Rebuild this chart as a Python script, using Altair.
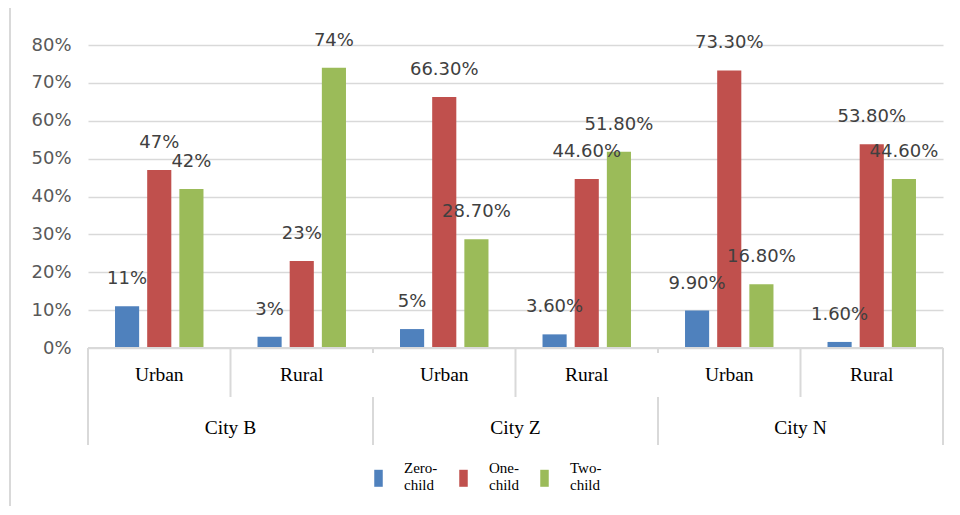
import altair as alt
import pandas as pd

cities = ["City B", "City Z", "City N"]
areas = ["Urban", "Rural"]
series = ["Zero-child", "One-child", "Two-child"]
colors = ["#4f81bd", "#c0504d", "#9bbb59"]

zero_vals = [0.11, 0.03, 0.05, 0.036, 0.099, 0.016]
one_vals = [0.47, 0.23, 0.663, 0.446, 0.733, 0.538]
two_vals = [0.42, 0.74, 0.287, 0.518, 0.168, 0.446]

zero_lbl = ["11%", "3%", "5%", "3.60%", "9.90%", "1.60%"]
one_lbl = ["47%", "23%", "66.30%", "44.60%", "73.30%", "53.80%"]
two_lbl = ["42%", "74%", "28.70%", "51.80%", "16.80%", "44.60%"]

y_ticks = [0, 0.1, 0.2, 0.3, 0.4, 0.5, 0.6, 0.7, 0.8]

groups = [(c, a) for c in cities for a in areas]
grp_keys = [f"{c}|{a}" for c, a in groups]

rows = []
for s, vals, lbls in [(series[0], zero_vals, zero_lbl),
                      (series[1], one_vals, one_lbl),
                      (series[2], two_vals, two_lbl)]:
    for (c, a), k, v, l in zip(groups, grp_keys, vals, lbls):
        rows.append({"grp": k, "city": c, "area": a, "series": s, "value": v, "label": l})
df = pd.DataFrame(rows)

gdf = pd.DataFrame([{"grp": k, "city": c, "area": a} for (c, a), k in zip(groups, grp_keys)])

W, H = 855, 303

xenc = alt.X("grp:N", scale=alt.Scale(domain=grp_keys, paddingInner=0, paddingOuter=0), axis=None)
xoff = alt.XOffset("series:N", scale=alt.Scale(domain=series, paddingInner=0.25, paddingOuter=0.84))
yscale = alt.Scale(domain=[0, 0.8], nice=False)
yaxis = alt.Axis(values=y_ticks, format=".0%", domain=False, ticks=False,
                 labelOverlap=False, labelPadding=17, labelFont="DejaVu Sans",
                 labelFontSize=18, labelColor="#595959", gridColor="#d9d9d9", gridWidth=1.5)
yenc = alt.Y("value:Q", scale=yscale, title=None, axis=yaxis)

bars = alt.Chart(df).mark_bar().encode(
    x=xenc,
    xOffset=xoff,
    y=yenc,
    color=alt.Color("series:N", scale=alt.Scale(domain=series, range=colors),
                    legend=alt.Legend(title=None, orient="none", direction="horizontal",
                                      legendX=282, legendY=414, padding=0,
                                      symbolType="M-0.5,0.24H0.5V2.24H-0.5Z", symbolSize=289,
                                      symbolStrokeWidth=0, labelOffset=17,
                                      columnPadding=17,
                                      labelFont="Liberation Serif", labelFontSize=15,
                                      labelColor="#000000",
                                      labelExpr="[split(datum.label,'-')[0] + '-', split(datum.label,'-')[1]]")),
)

texts = alt.Chart(df).mark_text(font="DejaVu Sans", fontSize=18, color="#404040",
                                baseline="alphabetic", dy=-22).encode(
    x=xenc, xOffset=xoff, y=yenc, text="label:N")

baseline = alt.Chart(gdf).mark_rule(color="#d9d9d9", strokeWidth=2).encode(
    x=alt.value(0), x2=alt.value(W), y=alt.value(H))

inner_sep = alt.Chart(gdf).transform_filter(alt.datum.area == "Rural").mark_rule(
    color="#d9d9d9", strokeWidth=2).encode(
    x=alt.X("grp:N", bandPosition=0), y=alt.value(H), y2=alt.value(352))

city_sep = alt.Chart(gdf).transform_filter(alt.datum.area == "Urban").mark_rule(
    color="#d9d9d9", strokeWidth=2).encode(
    x=alt.X("grp:N", bandPosition=0), y=alt.value(352), y2=alt.value(400))

city_tick = alt.Chart(gdf).transform_filter(alt.datum.area == "Urban").mark_rule(
    color="#d9d9d9", strokeWidth=2).encode(
    x=alt.X("grp:N", bandPosition=0), y=alt.value(H), y2=alt.value(308))

left_top = alt.Chart(gdf).transform_filter(alt.datum.grp == grp_keys[0]).mark_rule(
    color="#d9d9d9", strokeWidth=2).encode(
    x=alt.X("grp:N", bandPosition=0), y=alt.value(H), y2=alt.value(400))

right_end = alt.Chart(gdf).transform_filter(alt.datum.grp == grp_keys[-1]).mark_rule(
    color="#d9d9d9", strokeWidth=2).encode(
    x=alt.X("grp:N", bandPosition=1), y=alt.value(H), y2=alt.value(400))

area_lbl = alt.Chart(gdf).mark_text(font="Liberation Serif", fontSize=19.5, color="#000000",
                                    baseline="middle").encode(
    x=alt.X("grp:N"), y=alt.value(330), text="area:N")

city_lbl = alt.Chart(gdf).transform_filter(alt.datum.area == "Rural").mark_text(
    font="Liberation Serif", fontSize=19.5, color="#000000", baseline="middle").encode(
    x=alt.X("grp:N", bandPosition=0), y=alt.value(383), text="city:N")

border = alt.Chart(gdf).mark_rule(color="#d9d9d9", strokeWidth=2).encode(
    x=alt.value(-78), y=alt.value(-38), y2=alt.value(470))

chart = alt.layer(border, bars, texts, baseline, inner_sep, city_sep, city_tick, left_top,
                  right_end, area_lbl, city_lbl).properties(
    width=W, height=H, autosize="none",
    padding={"left": 80, "top": 37, "right": 9, "bottom": 158},
).configure_view(stroke=None).configure_axis(labelFont="DejaVu Sans", labelOverlap=False)

chart.save("out.html", embed_options={"renderer": "svg", "actions": False})
